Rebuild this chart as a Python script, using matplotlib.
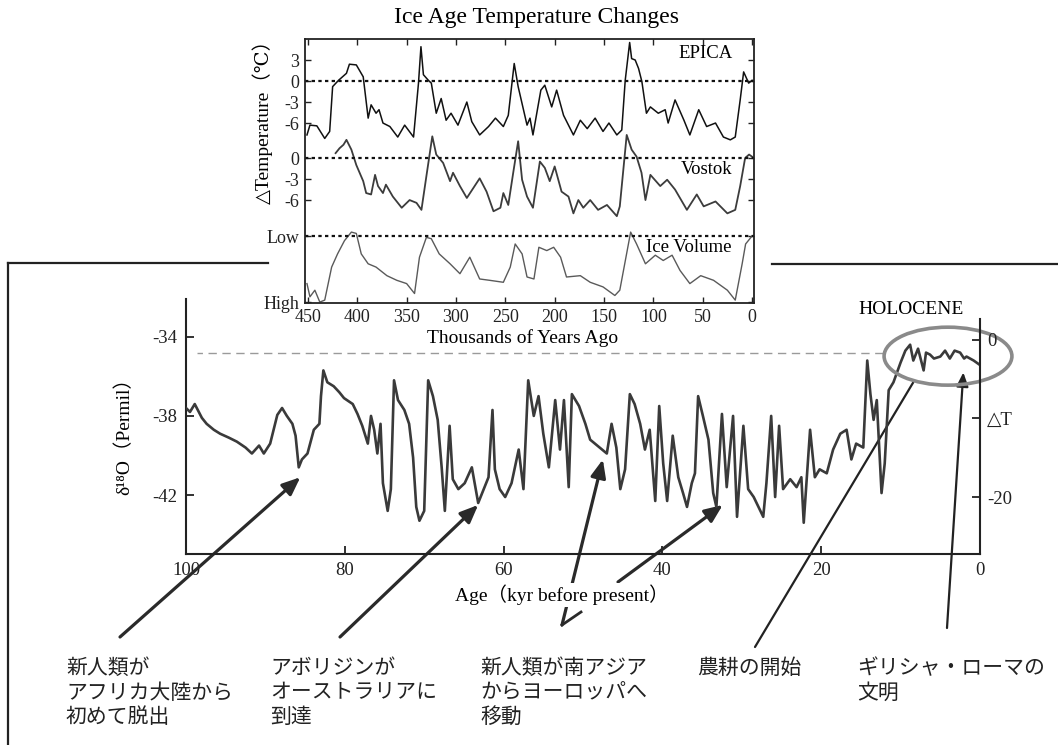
import matplotlib.pyplot as plt
from matplotlib.lines import Line2D
from matplotlib.patches import Ellipse

plt.rcParams['font.family'] = ['Liberation Serif', 'DejaVu Serif', 'Noto Sans CJK JP']
plt.rcParams['axes.unicode_minus'] = False

# ---- inset: Antarctic records (thousands of years ago) ----
epica_age = [451, 448, 441, 433, 428, 425, 419, 411, 408, 401, 394, 389, 386, 381, 378, 374,
             367, 359, 352, 343, 338, 335.5, 333, 328, 325, 320, 315, 310, 305, 298, 289, 284,
             276, 267, 260, 252, 247, 241, 237, 228, 225, 222, 214, 210, 203, 198, 191, 181,
             174, 167, 159, 151, 145, 137, 132, 128.5, 124, 122, 118.4, 115, 111.6, 107, 103,
             95, 88, 85, 78, 69, 63, 54, 46, 37, 29, 22, 17, 12, 8.5, 3.4, 0]
epica_temp = [-7.7, -6.3, -6.4, -8.2, -7.2, -0.8, 0.1, 1.1, 2.4, 2.3, 0.6, -5.3, -3.4, -4.6, -4.1, -6.0,
              -6.5, -8.0, -6.3, -8.0, -0.3, 4.9, 0.9, 0.1, -0.3, -4.6, -2.5, -5.6, -4.6, -6.3, -3.0, -5.8,
              -7.7, -6.5, -5.3, -6.5, -4.9, 2.5, -0.8, -6.3, -5.3, -7.7, -1.3, -0.6, -3.7, -1.3, -4.9, -7.7,
              -5.6, -6.8, -5.3, -7.2, -6.0, -7.7, -7.0, 0.1, 5.5, 3.2, 3.0, 1.8, -0.1, -4.6, -3.7,
              -4.6, -4.1, -6.0, -2.7, -5.6, -7.7, -4.1, -6.5, -6.0, -8.0, -8.4, -8.0, -2.7, 1.3, -0.3, 0.1]

vostok_age = [422, 418, 414, 411, 406, 401, 394, 391, 386, 382, 379, 374, 371, 364, 355, 347,
              340, 335, 330, 324, 320, 313, 306, 303, 296, 289, 276, 269, 262, 255, 252, 247,
              242, 237, 233, 228, 222, 215, 210, 205, 200, 193, 186, 181, 176, 171, 164, 156,
              147, 137, 134, 127, 122, 117, 112, 108, 103, 93, 86, 78, 66, 56, 49, 37, 25,
              17, 12, 7, 3, 0]
vostok_temp = [0.7, 1.4, 1.9, 2.6, 1.2, -1.0, -3.3, -5.0, -5.2, -2.4, -4.0, -5.0, -3.8, -5.5, -7.1, -6.0,
               -6.4, -7.4, -2.6, 3.1, 0.5, -0.7, -3.3, -2.1, -4.0, -5.7, -2.9, -4.8, -7.6, -7.1, -5.0, -6.7,
               -2.1, 2.4, -3.1, -5.5, -7.1, -0.5, -1.4, -3.3, -1.2, -4.8, -5.5, -7.9, -6.0, -7.1, -6.0, -7.4,
               -6.7, -8.3, -6.9, 3.3, 1.2, 0.2, -2.1, -6.0, -2.4, -4.0, -3.1, -4.5, -7.4, -5.2, -6.9, -6.2, -7.9,
               -7.4, -4.0, 0.0, 0.5, 0.2]

# 0 = "Low", 1 = "High"
ice_age = [451, 448, 443, 438, 433, 426, 420, 413, 406, 401, 396, 389, 381, 370, 360, 350,
           342, 337, 330, 325, 317, 306, 296, 286, 276, 266, 252, 245, 240, 233, 228, 221,
           216, 208, 201, 194, 188, 174, 164, 151, 139, 134, 123, 117, 108, 98, 90, 81,
           73, 63, 52, 39, 25, 17, 10, 6.5, 0]
ice_level = [0.72, 0.92, 0.82, 1.0, 0.97, 0.47, 0.27, 0.07, -0.06, -0.04, 0.27, 0.42, 0.47, 0.6, 0.67, 0.72,
             0.87, 0.32, 0.02, 0.04, 0.27, 0.42, 0.57, 0.32, 0.65, 0.67, 0.70, 0.47, 0.12, 0.27, 0.62, 0.65,
             0.17, 0.22, 0.17, 0.32, 0.62, 0.6, 0.70, 0.77, 0.90, 0.82, -0.06, 0.12, 0.42, 0.29, 0.37, 0.29,
             0.52, 0.72, 0.6, 0.67, 0.82, 0.97, 0.42, 0.12, 0.0]

VOSTOK_SHIFT = -11.0
ICE_LOW, ICE_HIGH = -22.14, -31.57
inset_xticks = [450, 400, 350, 300, 250, 200, 150, 100, 50, 0]
inset_yticks = [3, 0, -3, -6, VOSTOK_SHIFT, VOSTOK_SHIFT - 3, VOSTOK_SHIFT - 6, ICE_LOW, ICE_HIGH]
inset_ylabels = ['3', '0', '-3', '-6', '0', '-3', '-6', 'Low', 'High']

# ---- main: Greenland d18O, last 100 kyr ----
gisp_age = [100, 99.5, 98.9, 98.0, 97.4, 96.5, 95.7, 94.6, 93.6, 92.5, 91.7, 90.8, 90.2, 89.4, 88.5,
            87.9, 87.3, 86.6, 86.2, 85.8, 85.4, 84.7, 83.9, 83.2, 83.0, 82.7, 82.2, 81.4, 80.7, 80.1,
            79.0, 78.4, 77.8, 77.1, 76.7, 76.3, 75.9, 75.5, 75.2, 74.6, 74.2, 73.8, 73.3, 72.5, 71.9,
            71.4, 71.0, 70.6, 70.0, 69.5, 68.9, 68.3, 67.8, 67.4, 66.8, 66.4, 65.7, 64.9, 64.0, 63.2,
            62.4, 61.9, 61.4, 61.1, 60.5, 59.8, 59.0, 58.1, 57.5, 56.9, 56.2, 55.6, 55.0, 54.3, 53.5,
            52.9, 52.4, 51.8, 51.4, 50.5, 49.7, 49.1, 47.9, 47.0, 46.4, 45.8, 45.3, 44.7, 44.1, 43.5,
            42.8, 42.2, 41.6, 40.9, 40.4, 39.9, 39.4, 38.7, 38.0, 37.4, 36.9, 36.3, 35.9, 35.5, 34.9,
            34.2, 33.6, 33.2, 32.5, 31.9, 31.1, 30.6, 29.8, 29.2, 28.5, 27.3, 26.9, 26.3, 25.8, 25.3,
            24.8, 23.9, 23.1, 22.5, 22.2, 21.4, 20.8, 20.2, 19.3, 18.5, 17.6, 16.8, 16.2, 15.6, 14.7,
            14.2, 13.8, 13.4, 13.0, 12.6, 12.4, 12.0, 11.5, 10.9, 10.0, 9.4, 8.8, 8.4, 7.8, 7.1,
            6.8, 6.3, 5.8, 5.0, 4.4, 3.8, 3.2, 2.5, 2.0, 1.7, 0.8, 0.1]
gisp_d18o = [-37.6, -37.8, -37.4, -38.1, -38.4, -38.7, -38.9, -39.1, -39.3, -39.6, -39.9, -39.5, -39.9, -39.4, -37.95,
             -37.6, -38.0, -38.4, -39.0, -40.6, -40.2, -39.9, -38.7, -38.4, -37.0, -35.7, -36.3, -36.5, -36.8, -37.1,
             -37.4, -37.9, -38.5, -39.4, -38.0, -38.7, -39.9, -38.4, -41.4, -42.8, -41.7, -36.2, -37.2, -37.7, -38.4,
             -40.1, -42.6, -43.3, -42.8, -36.2, -37.0, -38.2, -40.6, -42.8, -38.5, -41.2, -41.7, -41.4, -40.6, -42.4,
             -41.6, -41.1, -37.7, -40.7, -41.7, -42.1, -41.4, -39.7, -41.7, -36.2, -38.0, -37.0, -38.9, -40.6, -37.2,
             -39.7, -37.2, -41.6, -36.9, -37.5, -38.4, -39.2, -39.6, -39.9, -38.4, -39.6, -41.7, -40.7, -36.9, -37.4,
             -38.4, -39.7, -38.7, -42.3, -37.5, -40.4, -42.3, -39.0, -41.1, -41.9, -42.6, -41.4, -40.9, -37.0, -38.0,
             -39.2, -41.9, -42.6, -37.9, -41.6, -38.0, -43.1, -38.5, -41.7, -42.1, -43.1, -41.4, -38.0, -42.1, -38.5,
             -41.7, -41.2, -41.6, -41.1, -43.4, -38.7, -41.1, -40.7, -40.9, -39.7, -38.9, -38.7, -40.2, -39.4, -39.6,
             -35.2, -36.9, -38.2, -37.2, -40.4, -41.9, -40.4, -36.7, -36.3, -35.3, -34.7, -34.4, -35.2, -34.6, -35.7,
             -34.8, -34.9, -35.1, -35.0, -34.7, -35.1, -34.7, -34.8, -35.1, -35.0, -35.2, -35.4]
main_xticks = [100, 80, 60, 40, 20, 0]
main_yticks = [-34, -38, -42]
dT_ticks = [0, -10, -20]
dT_labels = ['0', '△T', '-20']
holocene_level = -34.81

# arrow targets on the d18O curve (age, d18O) and the captions they belong to
event_target = [(85.6, -41.1), (63.2, -42.5), (47.5, -40.2), (32.4, -42.5), (8.4, -36.3), (2.1, -35.8)]
captions = ['新人類が\nアフリカ大陸から\n初めて脱出',
            'アボリジンが\nオーストラリアに\n到達',
            '新人類が南アジア\nからヨーロッパへ\n移動',
            '農耕の開始',
            'ギリシャ・ローマの\n文明']

W, H = 1058, 745
fig = plt.figure(figsize=(W / 100, H / 100), dpi=100)


def fx(x):
    return x / W


def fy(y):
    return 1 - y / H


# page frame lines from the scanned book
for xs, ys in [([8, 268], [263, 263]), ([772, 1058], [264, 264]), ([8, 8], [263, 745])]:
    fig.add_artist(Line2D([fx(v) for v in xs], [fy(v) for v in ys], color='#222', lw=1.6,
                          transform=fig.transFigure))

# ---------- main chart ----------
ax = fig.add_axes([fx(186), fy(554), 794 / W, 255 / H])
ax.plot(gisp_age, gisp_d18o, color='#3a3a3a', lw=1.9, zorder=3)
ax.set_xlim(100, 0)
ax.set_ylim(-44.98, -32.09)
ax.set_xticks(main_xticks)
ax.set_yticks(main_yticks)
ax.spines['top'].set_visible(False)
ax.spines['right'].set_visible(False)
for s in ['left', 'bottom']:
    ax.spines[s].set_linewidth(1.5)
    ax.spines[s].set_color('#222')
ax.tick_params(direction='in', length=6, width=1.3, labelsize=13.5, pad=6, colors='#222')
for lab in ax.get_xticklabels():
    lab.set_bbox(dict(facecolor='white', edgecolor='none', pad=1.5))
ax.hlines(holocene_level, 12.2, 98.6, colors='#9a9a9a', lw=1.0, linestyles=(0, (6, 4)), zorder=1)
ax.add_patch(Ellipse((4.03, -34.98), 16.1, 2.93, fill=False, ec='#8a8a8a', lw=2.6,
                     clip_on=False, zorder=4))

ax2 = ax.twinx()
ax2.set_ylim(-27.26, 5.22)
for s in ['left', 'top', 'bottom']:
    ax2.spines[s].set_visible(False)
ax2.spines['right'].set_bounds(-27.26, 2.68)
ax2.spines['right'].set_linewidth(1.5)
ax2.spines['right'].set_color('#222')
ax2.set_yticks(dT_ticks, dT_labels)
ax2.tick_params(direction='in', length=6, width=1.3, labelsize=13.5, pad=5, colors='#222')

# arrows from the captions to the curve
tails = [(120, 637), (340, 637), (562, 625), (618, 582), (755, 647), (947, 628)]
for i, ((age, val), (tx, ty)) in enumerate(zip(event_target, tails)):
    if i == 4:
        style = dict(arrowstyle='-', lw=1.6, color='#222', shrinkA=0, shrinkB=0)
    elif i == 5:
        style = dict(arrowstyle='-|>,head_length=0.7,head_width=0.3', mutation_scale=12,
                     lw=1.6, color='#222', shrinkA=0, shrinkB=0)
    else:
        style = dict(arrowstyle='-|>,head_length=0.9,head_width=0.38', mutation_scale=12,
                     lw=2.3, color='#2a2a2a', shrinkA=0, shrinkB=0)
    ax.annotate('', xy=(age, val), xycoords='data', xytext=(tx, H - ty),
                textcoords='figure pixels', arrowprops=style, annotation_clip=False, zorder=2)
fig.add_artist(Line2D([fx(562), fx(581)], [fy(625), fy(612)], color='#2a2a2a', lw=2.0,
                      transform=fig.transFigure))

fig.text(fx(562), fy(595), 'Age（kyr before present）', ha='center', va='center', size=14,
         bbox=dict(facecolor='white', edgecolor='none', pad=1))
fig.text(fx(124), fy(432), 'δ¹⁸O（Permil）', rotation=90, ha='center', va='center', size=14)
fig.text(fx(911), fy(309), 'HOLOCENE', ha='center', va='center', size=14)

cap_x = [66, 270, 480, 697, 857]
for x, txt in zip(cap_x, captions):
    fig.text(fx(x), fy(657), txt, ha='left', va='top', size=15, family=['Noto Sans CJK JP'],
             color='#222', linespacing=1.15)

# ---------- inset chart ----------
ins = fig.add_axes([fx(305), fy(303), 449 / W, 264 / H])
ins.set_facecolor('white')
ins.plot(epica_age, epica_temp, color='#111', lw=1.1)
ins.plot(vostok_age, [t + VOSTOK_SHIFT for t in vostok_temp], color='#3c3c3c', lw=1.3)
ins.plot(ice_age, [ICE_LOW + v * (ICE_HIGH - ICE_LOW) for v in ice_level], color='#5a5a5a', lw=1.0)
for lvl in [0, VOSTOK_SHIFT, ICE_LOW]:
    ins.axhline(lvl, color='#111', lw=1.6, ls=(0, (1.5, 1.5)))
ins.set_xlim(453, -2)
ins.set_ylim(-31.7, 6.0)
ins.set_xticks(inset_xticks)
ins.set_yticks(inset_yticks, inset_ylabels)
ins.tick_params(direction='in', top=True, right=True, length=4, width=1.0, labelsize=13,
                pad=4, colors='#222')
for s in ins.spines.values():
    s.set_linewidth(1.3)
    s.set_color('#222')

fig.text(fx(733), fy(53), 'EPICA', ha='right', va='center', size=13.5)
fig.text(fx(732), fy(170), 'Vostok', ha='right', va='center', size=13.5)
fig.text(fx(732), fy(247), 'Ice Volume', ha='right', va='center', size=13.5)
fig.text(fx(536), fy(18), 'Ice Age Temperature Changes', ha='center', va='center', size=17)
fig.text(fx(523), fy(338), 'Thousands of Years Ago', ha='center', va='center', size=14)
fig.text(fx(263), fy(117), '△Temperature（℃）', rotation=90, ha='center', va='center', size=14)

fig.savefig('out.png', dpi=100)
